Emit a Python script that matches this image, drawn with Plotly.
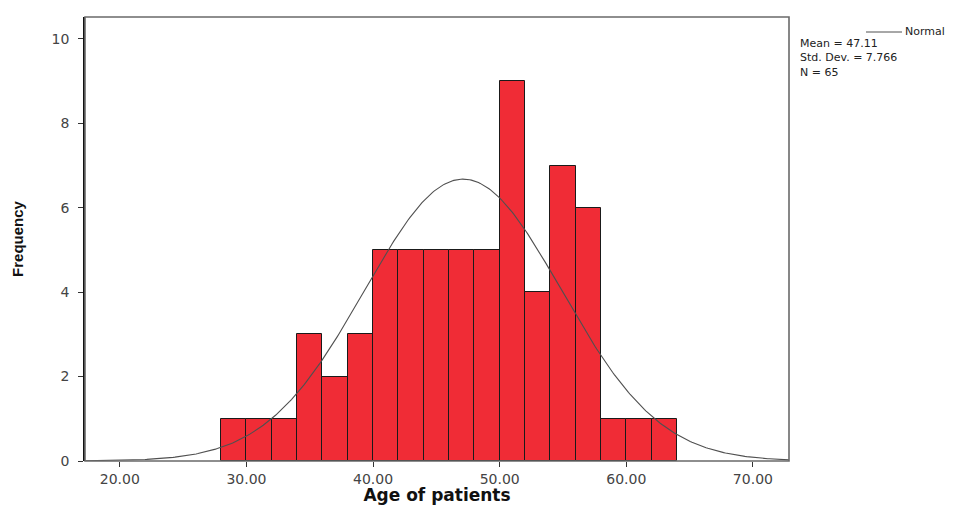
import numpy as np
import plotly.graph_objects as go

# Histogram of patient ages (bin width 2 years)
bin_left = [28, 30, 32, 34, 36, 38, 40, 42, 44, 46, 48, 50, 52, 54, 56, 58, 60, 62]
counts = [1, 1, 1, 3, 2, 3, 5, 5, 5, 5, 5, 9, 4, 7, 6, 1, 1, 1]
bin_width = 2

# Summary statistics shown in the legend box
mean_age = 47.11
std_age = 7.766
n_patients = 65

x_ticks = [20, 30, 40, 50, 60, 70]
y_ticks = [0, 2, 4, 6, 8, 10]
x_range = [17.25, 72.85]
y_range = [0, 10.52]

centers = [b + bin_width / 2 for b in bin_left]

# Fitted normal curve scaled to the histogram counts
xs = np.linspace(x_range[0], x_range[1], 400)
ys = n_patients * bin_width / (std_age * np.sqrt(2 * np.pi)) * np.exp(-0.5 * ((xs - mean_age) / std_age) ** 2)

fig = go.Figure()
fig.add_trace(go.Bar(
    x=centers, y=counts, width=bin_width,
    marker=dict(color="rgb(240,44,54)", line=dict(color="#1a1a1a", width=1)),
    hoverinfo="x+y",
))
fig.add_trace(go.Scatter(
    x=xs, y=ys, mode="lines",
    line=dict(color="#505050", width=1.1),
    hoverinfo="skip",
))

tick_font = dict(family="DejaVu Sans", size=14, color="#444444")

fig.update_layout(
    width=960, height=505,
    margin=dict(l=85, r=171, t=17, b=44),
    paper_bgcolor="white", plot_bgcolor="white",
    showlegend=False,
    bargap=0,
    xaxis=dict(
        range=x_range, tickvals=x_ticks,
        ticktext=[f"{v:.2f}" for v in x_ticks],
        ticks="outside", ticklen=5, tickcolor="#333333", tickwidth=1.2,
        showgrid=False, zeroline=False, showline=False,
        tickfont=tick_font, automargin=False,
        title=dict(text="<b>Age of patients</b>", standoff=8,
                   font=dict(family="DejaVu Sans", size=17, color="#111111")),
    ),
    yaxis=dict(
        range=y_range, tickvals=y_ticks,
        ticks="outside", ticklen=5, tickcolor="#333333", tickwidth=1.2,
        ticklabelstandoff=6,
        showgrid=False, zeroline=False,
        showline=True, linecolor="#111111", linewidth=1.8,
        tickfont=tick_font, automargin=False,
        title=dict(text="<b>Frequency</b>", standoff=24,
                   font=dict(family="Liberation Sans", size=15, color="#111111")),
    ),
)

# Outer frame of the plotting area
fig.add_shape(type="rect", xref="paper", yref="paper", x0=0, y0=0, x1=1, y1=1,
              line=dict(color="#6a6a6a", width=1.6), layer="above")

# Legend box text to the right of the plot
plot_w = 960 - 85 - 171
plot_h = 505 - 17 - 44


def px_to_paper(px, py):
    return (px - 85) / plot_w, 1 - (py - 17) / plot_h


lx0, ly = px_to_paper(866, 32)
lx1, _ = px_to_paper(902, 32)
fig.add_shape(type="line", xref="paper", yref="paper", x0=lx0, x1=lx1, y0=ly, y1=ly,
              line=dict(color="#505050", width=1))

legend_font = dict(family="DejaVu Sans", size=11, color="#222222")
nx, ny = px_to_paper(903, 32)
fig.add_annotation(x=nx, y=ny, xref="paper", yref="paper", text="Normal",
                   showarrow=False, xanchor="left", yanchor="middle", font=legend_font)
stats_text = "<br>".join([f"Mean = {mean_age}", f"Std. Dev. = {std_age}", f"N = {n_patients}"])
sx, sy = px_to_paper(799, 36)
fig.add_annotation(x=sx, y=sy, xref="paper", yref="paper", text=stats_text,
                   showarrow=False, xanchor="left", yanchor="top", align="left",
                   font=legend_font, borderpad=0)

fig.write_html("out.html")
